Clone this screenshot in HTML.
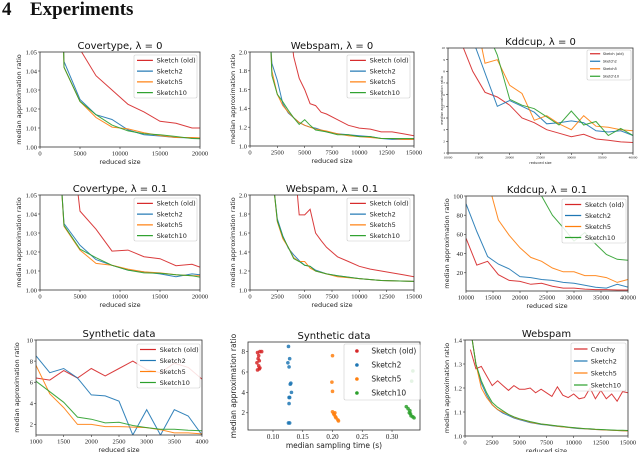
<!DOCTYPE html>
<html><head><meta charset="utf-8">
<style>
html,body{margin:0;padding:0;background:#fff;width:640px;height:452px;overflow:hidden}
svg{display:block}
.tk{font-family:"Liberation Serif",serif;fill:#222}
.tt{font-family:"DejaVu Sans","Liberation Sans",sans-serif;fill:#111}
.lb{font-family:"DejaVu Sans","Liberation Sans",sans-serif;fill:#222}
</style></head><body>
<svg id="fig" width="640" height="452" viewBox="0 0 640 452">
<g>
<text x="2" y="15" font-family="Liberation Serif,serif" font-weight="bold" font-size="19" fill="#111">4</text>
<text x="30" y="15" font-family="Liberation Serif,serif" font-weight="bold" font-size="19" fill="#111">Experiments</text>
</g>
</svg>
<script>
const C={r:'#d62728',b:'#1f77b4',o:'#ff7f0e',g:'#2ca02c'};
// ---- data ----
const covX0=[2900,3000,5000,7000,9000,11000,13000,15000,17000,19000,20000];
const cov0Red=[[5000,1.06],[5200,1.05],[7000,1.0375],[9000,1.030],[11000,1.0225],[13000,1.0185],[15000,1.0135],[17000,1.0125],[19000,1.010],[20000,1.010]];
const cov0Blue=[1.06,1.045,1.025,1.017,1.0145,1.009,1.0065,1.0058,1.005,1.0048,1.0045];
const cov0Orange=[1.06,1.042,1.024,1.0155,1.0105,1.0095,1.0075,1.006,1.005,1.005,1.0048];
const cov0Green=[1.06,1.042,1.024,1.017,1.0115,1.0085,1.007,1.0065,1.0055,1.0045,1.0043];
const covX1=[2600,3000,5000,7000,9000,11000,13000,15000,17000,19000,20000];
const cov1Red=[[4500,1.06],[5000,1.0415],[7000,1.032],[9000,1.0205],[11000,1.021],[13000,1.0175],[15000,1.0165],[17000,1.0128],[19000,1.0135],[20000,1.012]];
const cov1Blue=[1.06,1.035,1.0235,1.016,1.013,1.0105,1.0095,1.0085,1.007,1.0085,1.008];
const cov1Orange=[1.06,1.0335,1.021,1.014,1.013,1.011,1.0095,1.009,1.008,1.0075,1.0075];
const cov1Green=[1.06,1.034,1.0215,1.017,1.013,1.0105,1.009,1.0088,1.008,1.0075,1.0068];
const webX=[1900,2000,2500,3000,3500,4000,4500,5000,5500,6000,7000,8000,9000,10000,11000,12000,13000,14000,15000];
const web0Red=[[3900,2.05],[4000,1.95],[4500,1.72],[5000,1.6],[5500,1.45],[6000,1.43],[6500,1.36],[7000,1.34],[8000,1.28],[9000,1.22],[10000,1.19],[11000,1.18],[12000,1.15],[13000,1.15],[14000,1.13],[15000,1.11]];
const web0Blue=[2.05,1.88,1.7,1.45,1.35,1.3,1.25,1.22,1.2,1.19,1.15,1.13,1.12,1.11,1.1,1.08,1.07,1.07,1.07];
const web0Orange=[2.05,1.8,1.55,1.43,1.36,1.3,1.25,1.22,1.2,1.18,1.16,1.13,1.11,1.1,1.09,1.08,1.08,1.07,1.07];
const web0Green=[2.05,1.75,1.55,1.47,1.38,1.3,1.23,1.28,1.22,1.17,1.15,1.12,1.12,1.1,1.1,1.08,1.08,1.08,1.08];
const web1Red=[[4300,2.05],[4500,1.79],[5000,1.79],[5500,1.85],[6000,1.6],[6500,1.52],[7000,1.45],[8000,1.35],[9000,1.3],[10000,1.25],[11000,1.22],[12000,1.2],[13000,1.18],[14000,1.16],[15000,1.14]];
const webX1=[2200,2500,3000,3500,4000,4500,5000,5500,6000,7000,8000,10000,12000,15000];
const web1Blue=[2.05,1.75,1.57,1.44,1.37,1.31,1.26,1.25,1.21,1.17,1.15,1.12,1.1,1.09];
const web1Orange=[2.05,1.72,1.54,1.45,1.34,1.3,1.3,1.23,1.2,1.17,1.14,1.12,1.1,1.09];
const web1Green=[2.05,1.73,1.56,1.45,1.33,1.3,1.26,1.25,1.2,1.17,1.15,1.12,1.1,1.09];
const kdd0Red=[[12500,10],[14000,8],[16000,6.2],[18000,5.8],[20000,5.1],[22000,4],[24000,3.6],[26000,3],[28000,2.7],[30000,2.4],[32000,2.6],[34000,2.2],[36000,2.1],[38000,1.95],[40000,1.9]];
const kdd0Blue=[[14500,10],[18000,5],[20000,5.5],[22000,5],[24000,4.5],[26000,3.5],[28000,3.6],[30000,3.75],[32000,3.6],[34000,2.9],[36000,2.8],[38000,2.9],[40000,2.5]];
const kdd0Orange=[[15500,10],[16000,8.7],[18000,9],[20000,6.8],[22000,6.1],[24000,3.8],[26000,4.2],[28000,3.5],[30000,3],[32000,4.2],[34000,3.3],[36000,3.2],[38000,3],[40000,2.9]];
const kdd0Green=[[17500,10],[18000,9.4],[20000,5.6],[22000,5.1],[24000,4.8],[26000,4.1],[28000,3.4],[30000,4.6],[32000,3.4],[34000,3.7],[36000,2.5],[38000,3.1],[40000,2.5]];
const kdd1Red=[[10000,56],[12000,28],[14000,32],[16000,18],[18000,12],[20000,11],[22000,8],[24000,9],[26000,6],[28000,4],[30000,4],[32000,3],[34000,2.5],[36000,2.5],[38000,2],[40000,2]];
const kdd1Blue=[[10000,92],[12000,63],[14000,37],[16000,29],[18000,24],[20000,16],[22000,15],[24000,13],[26000,12],[28000,10],[30000,9],[32000,7],[34000,5],[36000,4],[38000,8],[40000,5]];
const kdd1Orange=[[14800,100],[16000,75],[18000,59],[20000,46],[22000,36],[24000,32],[26000,25],[28000,21],[30000,21],[32000,17],[34000,17],[36000,15],[38000,10],[40000,13]];
const kdd1Green=[[24000,100],[26000,80],[28000,67],[30000,53],[32000,62],[34000,50],[36000,39],[38000,34],[40000,33]];
const synX=[1000,1250,1500,1750,2000,2250,2500,2750,3000,3250,3500,3750,4000];
const synRed=[6.4,6.2,7.1,6.4,7.3,6.6,7.3,8.0,7.2,6.9,7.8,7.4,6.3];
const synBlue=[8.5,6.9,7.3,6.4,4.8,4.7,4.2,1,3.4,1,3.4,2.8,1];
const synOrange=[7.6,4.9,3.6,2.0,2.0,1.8,1.8,1.75,1.7,1.5,1.2,1.2,1.1];
const synGreen=[6.1,5.1,4.1,2.7,2.5,2.15,2.2,1.9,1.7,1.55,1.55,1.45,1.4];
const scRed=[[0.074,7.9],[0.078,8.0],[0.081,8.0],[0.075,7.3],[0.077,7.1],[0.073,6.9],[0.076,6.6],[0.078,6.4],[0.074,6.2],[0.077,6.3],[0.076,7.6]];
const scBlue=[[0.126,8.5],[0.128,7.3],[0.125,6.9],[0.127,6.5],[0.13,4.9],[0.129,4.8],[0.131,4.0],[0.128,3.5],[0.127,3.5],[0.127,2.9],[0.128,1.0],[0.126,1.0]];
const scOrange=[[0.2,7.6],[0.199,5.0],[0.2,4.1],[0.2,2.1],[0.204,2.0],[0.203,1.8],[0.205,1.6],[0.206,1.5],[0.209,1.3],[0.21,1.2],[0.202,1.9]];
const scGreen=[[0.335,6.1],[0.333,5.1],[0.324,2.6],[0.327,2.4],[0.33,2.2],[0.331,1.9],[0.332,1.7],[0.335,1.6],[0.337,1.5],[0.329,2.0]];
const wsX=[];for(let v=500;v<=15000;v+=500)wsX.push(v);
const wsCauchy=[1.36,1.28,1.29,1.25,1.21,1.23,1.21,1.19,1.21,1.195,1.195,1.2,1.18,1.195,1.18,1.165,1.205,1.17,1.16,1.175,1.155,1.16,1.2,1.155,1.19,1.155,1.175,1.145,1.185,1.18];
const wsS2=[1.45,1.3,1.22,1.17,1.13,1.11,1.095,1.085,1.075,1.068,1.062,1.056,1.052,1.048,1.046,1.043,1.04,1.038,1.036,1.033,1.031,1.03,1.028,1.027,1.026,1.025,1.024,1.023,1.022,1.022];
const wsS5=[1.45,1.3,1.2,1.16,1.13,1.11,1.1,1.09,1.078,1.07,1.065,1.058,1.053,1.05,1.047,1.044,1.041,1.038,1.036,1.034,1.032,1.03,1.029,1.027,1.026,1.025,1.024,1.023,1.022,1.021];
const wsS10=[1.45,1.3,1.23,1.18,1.14,1.12,1.105,1.09,1.08,1.072,1.066,1.06,1.055,1.05,1.048,1.045,1.042,1.04,1.037,1.035,1.033,1.031,1.03,1.028,1.027,1.026,1.025,1.024,1.024,1.023];

const NS='http://www.w3.org/2000/svg';
const fig=document.getElementById('fig');
let clipId=0;
function mk(tag,attrs,parent){const e=document.createElementNS(NS,tag);for(const k in attrs)e.setAttribute(k,attrs[k]);(parent||fig).appendChild(e);return e;}
function zip(xs,ys){return xs.map((x,i)=>[x,ys[i]]);}
function panel(p){
  const g=mk('g',{});
  
  
  const [L,T,R,B]=p.box;
  const sx=v=>L+(v-p.xr[0])/(p.xr[1]-p.xr[0])*(R-L);
  const sy=v=>B-(v-p.yr[0])/(p.yr[1]-p.yr[0])*(B-T);
  const id='c'+(clipId++);
  const cp=mk('clipPath',{id:id},g);mk('rect',{x:L,y:T,width:R-L,height:B-T},cp);
  const sg=mk('g',{'clip-path':'url(#'+id+')'},g);
  p.series.forEach(s=>{
    if(s.scatter){
      s.pts.forEach(pt=>{const c=mk('circle',{cx:sx(pt[0]),cy:sy(pt[1]),r:1.8,fill:s.c,'fill-opacity':0.85},sg);
        
        });
    } else {
      const pl=mk('polyline',{points:s.pts.map(q=>sx(q[0]).toFixed(1)+','+sy(q[1]).toFixed(1)).join(' '),fill:'none',stroke:s.c,'stroke-width':1,'stroke-opacity':0.9},sg);
      
      
    }
  });
  mk('rect',{x:L,y:T,width:R-L,height:B-T,fill:'none',stroke:'#333','stroke-width':0.8},g);
  const fs=p.fs||6.5;
  p.xt.forEach((v,i)=>{const x=sx(v);mk('line',{x1:x,x2:x,y1:B,y2:B+2,stroke:'#333','stroke-width':0.6},g);
    const t=mk('text',{x:x,y:B+fs+2,'font-size':fs,'text-anchor':'middle',class:'tk'},g);t.textContent=p.xtl?p.xtl[i]:v;});
  p.yt.forEach((v,i)=>{const y=sy(v);mk('line',{x1:L-2,x2:L,y1:y,y2:y,stroke:'#333','stroke-width':0.6},g);
    const t=mk('text',{x:L-3,y:y+fs*0.35,'font-size':fs,'text-anchor':'end',class:'tk'},g);t.textContent=p.ytl?p.ytl[i]:v;});
  const xl=mk('text',{x:(L+R)/2,y:B+fs*2+4,'font-size':p.lfs||6.5,'text-anchor':'middle',class:'lb'},g);xl.textContent=p.xlabel;
  
  
  const yx=p.ylx, yy=(T+B)/2;
  const yl=mk('text',{x:yx,y:yy,'font-size':p.lfs||6.5,'text-anchor':'middle',class:'lb',transform:'rotate(-90 '+yx+' '+yy+')'},g);yl.textContent=p.ylabel;
  
  
  const tt=mk('text',{x:(L+R)/2,y:T-3,'font-size':p.tfs||10,'text-anchor':'middle',class:'tt'},g);tt.textContent=p.title;
  
  
  const lg=p.leg;const lgG=mk('g',{},g);
  
  
  mk('rect',{x:lg.x,y:lg.y,width:lg.w,height:lg.h,fill:'#fff','fill-opacity':0.85,stroke:'#ccc','stroke-width':0.6,rx:1.5},lgG);
  p.series.forEach((s,i)=>{const y=lg.y+lg.h*(i+0.5)/p.series.length;
    if(s.scatter)mk('circle',{cx:lg.x+lg.w*0.17,cy:y,r:1.8,fill:s.c},lgG);
    else mk('line',{x1:lg.x+3,x2:lg.x+lg.w*0.3,y1:y,y2:y,stroke:s.c,'stroke-width':1.2},lgG);
    const t=mk('text',{x:lg.x+lg.w*0.36,y:y+lg.fs*0.35,'font-size':lg.fs,class:'lb'},lgG);t.textContent=s.label;
    
    });
}
const LBL=['Sketch (old)','Sketch2','Sketch5','Sketch10'];
const YL='median approximation ratio', XL='reduced size';
function four(red,blue,orange,green){return [{key:'sketch-old',c:C.r,label:LBL[0],pts:red},{key:'sketch2',c:C.b,label:LBL[1],pts:blue},{key:'sketch5',c:C.o,label:LBL[2],pts:orange},{key:'sketch10',c:C.g,label:LBL[3],pts:green}];}
const covYT=[1.00,1.01,1.02,1.03,1.04,1.05];const covYTL=['1.00','1.01','1.02','1.03','1.04','1.05'];
panel({name:'covertype-lambda0-chart',box:[40,52,200,147],xr:[0,20000],yr:[1.0,1.05],xt:[0,5000,10000,15000,20000],yt:covYT,ytl:covYTL,title:'Covertype, λ = 0',xlabel:XL,ylabel:YL,ylx:21,
  series:four(cov0Red,zip(covX0,cov0Blue),zip(covX0,cov0Orange),zip(covX0,cov0Green)),leg:{x:134,y:55,w:63,h:43,fs:6.5}});
const webYT=[1.0,1.2,1.4,1.6,1.8,2.0];const webYTL=['1.0','1.2','1.4','1.6','1.8','2.0'];
panel({name:'webspam-lambda0-chart',box:[250,52,414,146],xr:[0,15000],yr:[1.0,2.0],xt:[0,2500,5000,7500,10000,12500,15000],yt:webYT,ytl:webYTL,title:'Webspam, λ = 0',xlabel:XL,ylabel:YL,ylx:235,
  series:four(web0Red,zip(webX,web0Blue),zip(webX,web0Orange),zip(webX,web0Green)),leg:{x:347,y:55,w:63,h:43,fs:6.5}});
panel({name:'kddcup-lambda0-chart',box:[448,48,633,153],xr:[10000,40000],yr:[1,10],xt:[10000,15000,20000,25000,30000,35000,40000],yt:[1,2,3,4,5,6,7,8,9,10],title:'Kddcup, λ = 0',xlabel:XL,ylabel:YL,ylx:443,fs:3.5,lfs:3.5,
  series:four(kdd0Red,kdd0Blue,kdd0Orange,kdd0Green),leg:{x:587,y:50,w:44,h:30,fs:3.5}});
panel({name:'covertype-lambda01-chart',box:[40,195,200,290],xr:[0,20000],yr:[1.0,1.05],xt:[0,5000,10000,15000,20000],yt:covYT,ytl:covYTL,title:'Covertype, λ = 0.1',xlabel:XL,ylabel:YL,ylx:21,
  series:four(cov1Red,zip(covX1,cov1Blue),zip(covX1,cov1Orange),zip(covX1,cov1Green)),leg:{x:134,y:198,w:63,h:43,fs:6.5}});
panel({name:'webspam-lambda01-chart',box:[250,195,414,290],xr:[0,15000],yr:[1.0,2.0],xt:[0,2500,5000,7500,10000,12500,15000],yt:webYT,ytl:webYTL,title:'Webspam, λ = 0.1',xlabel:XL,ylabel:YL,ylx:235,
  series:four(web1Red,zip(webX1,web1Blue),zip(webX1,web1Orange),zip(webX1,web1Green)),leg:{x:347,y:198,w:63,h:43,fs:6.5}});
panel({name:'kddcup-lambda01-chart',box:[466,196,628,291],xr:[10000,40000],yr:[1,100],xt:[10000,15000,20000,25000,30000,35000,40000],yt:[20,40,60,80,100],title:'Kddcup, λ = 0.1',xlabel:XL,ylabel:YL,ylx:449,
  series:four(kdd1Red,kdd1Blue,kdd1Orange,kdd1Green),leg:{x:562,y:199,w:64,h:44,fs:6.5}});
panel({name:'synthetic-data-line-chart',box:[36,340,202,435],xr:[1000,4000],yr:[1,10],xt:[1000,1500,2000,2500,3000,3500,4000],yt:[2,4,6,8,10],title:'Synthetic data',xlabel:XL,ylabel:YL,ylx:19,
  series:four(zip(synX,synRed),zip(synX,synBlue),zip(synX,synOrange),zip(synX,synGreen)),leg:{x:137,y:344,w:63,h:44,fs:6.5}});
panel({name:'synthetic-data-scatter-chart',box:[248,342,420,430],xr:[0.058,0.347],yr:[0.31,8.94],xt:[0.10,0.15,0.20,0.25,0.30],xtl:['0.10','0.15','0.20','0.25','0.30'],yt:[2,4,6,8],title:'Synthetic data',xlabel:'median sampling time (s)',ylabel:YL,ylx:236,fs:7,lfs:7.5,
  series:[{key:'sketch-old',c:C.r,label:LBL[0],pts:scRed,scatter:1},{key:'sketch2',c:C.b,label:LBL[1],pts:scBlue,scatter:1},{key:'sketch5',c:C.o,label:LBL[2],pts:scOrange,scatter:1},{key:'sketch10',c:C.g,label:LBL[3],pts:scGreen,scatter:1}],leg:{x:344,y:344,w:76,h:56,fs:7.5}});
panel({name:'webspam-cauchy-chart',box:[465,340,628,436],xr:[0,15000],yr:[1.0,1.4],xt:[0,2500,5000,7500,10000,12500,15000],yt:[1.0,1.1,1.2,1.3,1.4],ytl:['1.0','1.1','1.2','1.3','1.4'],title:'Webspam',xlabel:XL,ylabel:YL,ylx:449,
  series:[{key:'cauchy',c:C.r,label:'Cauchy',pts:zip(wsX,wsCauchy)},{key:'sketch2',c:C.b,label:'Sketch2',pts:zip(wsX,wsS2)},{key:'sketch5',c:C.o,label:'Sketch5',pts:zip(wsX,wsS5)},{key:'sketch10',c:C.g,label:'Sketch10',pts:zip(wsX,wsS10)}],leg:{x:571,y:343,w:55,h:48,fs:6.5}});
</script>
</body></html>
